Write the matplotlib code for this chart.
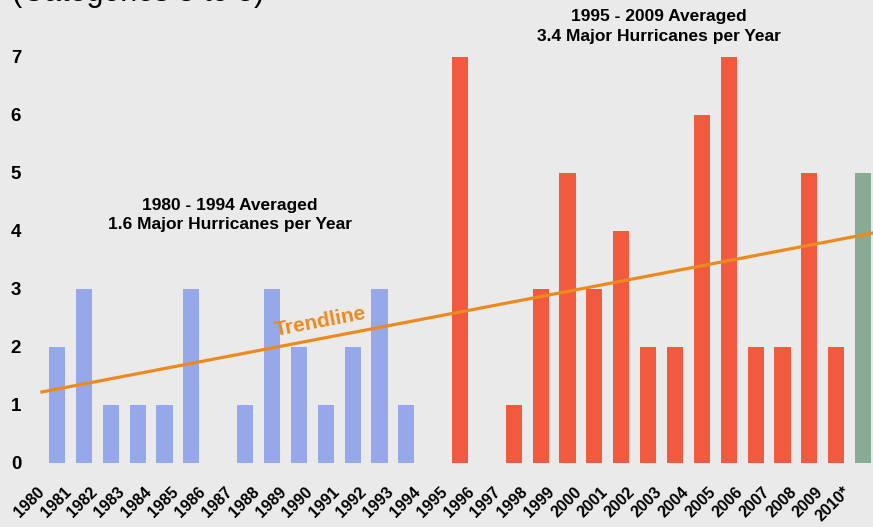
import matplotlib
matplotlib.use("Agg")
import matplotlib.pyplot as plt
from matplotlib.transforms import ScaledTranslation

plt.rcParams['font.family'] = ['Liberation Sans', 'DejaVu Sans']

# data
years = [str(y) for y in range(1980, 2010)] + ['2010*']
counts = [2, 3, 1, 1, 1, 3, 0, 1, 3, 2, 1, 2, 3, 1, 0,
          7, 0, 1, 3, 5, 3, 4, 2, 2, 6, 7, 2, 2, 5, 2,
          5]
trend_ends = [1.22, 3.96]  # trendline value at left and right edge of plot
yticks = [0, 1, 2, 3, 4, 5, 6, 7]

blue = '#97a8ea'
red = '#f25a40'
green = '#88ab94'
orange = '#ec8a1e'
bg = '#eaeaea'

colors = []
for i, y in enumerate(years):
    if i < 15:
        colors.append(blue)
    elif y.endswith('*'):
        colors.append(green)
    else:
        colors.append(red)

fig = plt.figure(figsize=(8.73, 5.27), dpi=100, facecolor=bg)
ax = fig.add_axes([0.0481, 0.122, 0.9519, 0.7704])
ax.set_facecolor(bg)

x = list(range(len(years)))
ax.bar(x, counts, width=0.6, color=colors, zorder=2)

ax.set_xlim(-0.56, 30.37)
ax.set_ylim(0, 7)
xl = ax.get_xlim()
ax.plot(xl, trend_ends, color=orange, lw=2.3, zorder=3, clip_on=False)

for s in ax.spines.values():
    s.set_visible(False)

ax.set_yticks(yticks)
ax.set_yticklabels([str(t) for t in yticks], fontsize=13.5, fontweight='bold')
ax.tick_params(axis='y', length=0, pad=15)

ax.set_xticks(x)
ax.set_xticklabels(years, rotation=45, ha='right', va='top',
                   fontsize=11.5, fontweight='bold')
ax.tick_params(axis='x', length=0, pad=15.5)
shift = ScaledTranslation(-10 / 100, 0, fig.dpi_scale_trans)
for lab in ax.get_xticklabels():
    lab.set_transform(lab.get_transform() + shift)

ax.text(6.42, 4.27, '1980 - 1994 Averaged\n1.6 Major Hurricanes per Year',
        ha='center', va='center', fontsize=12.5, fontweight='bold',
        linespacing=1.3)
ax.text(22.4, 7.52, '1995 - 2009 Averaged\n3.4 Major Hurricanes per Year',
        ha='center', va='center', fontsize=12.5, fontweight='bold',
        linespacing=1.35, clip_on=False)
ax.text(9.79, 2.43, 'Trendline', ha='center', va='center', rotation=10.8,
        rotation_mode='anchor', fontsize=15, fontweight='bold', color=orange)

fig.text(12 / 873, 1 - 1.5 / 527, '(Categories 3 to 5)', fontsize=22,
         ha='left', va='baseline')

fig.savefig('out.png', dpi=100, facecolor=bg)
